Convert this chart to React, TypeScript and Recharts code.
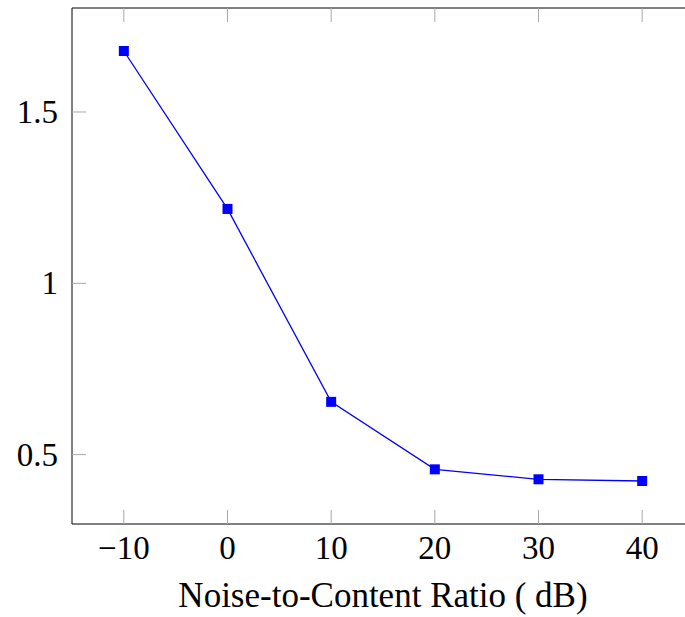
import React from 'react';
import { LineChart, Line, XAxis, YAxis, Label } from 'recharts';

const ratios = [-10, 0, 10, 20, 30, 40];
const losses = [1.678, 1.217, 0.654, 0.457, 0.428, 0.423];
const xTicks = [-10, 0, 10, 20, 30, 40];
const yTicks = [0.5, 1, 1.5];

const data = ratios.map((r, i) => ({ ratio: r, loss: losses[i] }));

const FONT = '"Liberation Serif", "DejaVu Serif", serif';
const TICK_LEN = 14;
const TICK_COLOR = '#a8a8a8';

const fmtX = (v: number) => (v < 0 ? '\u2212' + Math.abs(v) : String(v));

// inward tick marks drawn together with the label
const BottomTick = (props: any) => {
  const { x, y, payload } = props;
  return (
    <g>
      <line x1={x} y1={y} x2={x} y2={y - TICK_LEN} stroke={TICK_COLOR} strokeWidth={1} />
      <text x={x} y={y + 35} textAnchor="middle" fill="#000" fontSize={33} fontFamily={FONT}>
        {fmtX(payload.value)}
      </text>
    </g>
  );
};

const TopTick = (props: any) => {
  const { x, y } = props;
  return <line x1={x} y1={y} x2={x} y2={y + TICK_LEN} stroke={TICK_COLOR} strokeWidth={1} />;
};

const LeftTick = (props: any) => {
  const { x, y, payload } = props;
  return (
    <g>
      <line x1={x} y1={y} x2={x + TICK_LEN} y2={y} stroke={TICK_COLOR} strokeWidth={1} />
      <text x={x - 14} y={y + 11} textAnchor="end" fill="#000" fontSize={33} fontFamily={FONT}>
        {String(payload.value)}
      </text>
    </g>
  );
};

const RightTick = (props: any) => {
  const { x, y } = props;
  return <line x1={x} y1={y} x2={x - TICK_LEN} y2={y} stroke={TICK_COLOR} strokeWidth={1} />;
};

const Square = (props: any) => {
  const { cx, cy, index } = props;
  if (cx == null || cy == null) return null;
  return <rect key={index} x={cx - 5} y={cy - 5} width={10} height={10} fill="#0000ff" />;
};

export default function App() {
  return (
    <div style={{ position: 'fixed', top: 0, left: 0, width: 685, height: 617, overflow: 'hidden', background: '#fff' }}>
      <LineChart width={700} height={617} data={data} margin={{ top: 7, right: 5, bottom: 0, left: 0 }}>
        <XAxis
          xAxisId="b"
          dataKey="ratio"
          type="number"
          domain={[-15, 45]}
          ticks={xTicks}
          height={93}
          tickSize={0}
          tickMargin={0}
          tick={BottomTick}
          tickLine={false}
          axisLine={{ stroke: '#000' }}
        >
          <Label
            value="Noise-to-Content Ratio ( dB)"
            position="insideBottom"
            offset={10}
            style={{ fill: '#000', fontSize: 35, fontFamily: FONT }}
          />
        </XAxis>
        <XAxis
          xAxisId="t"
          dataKey="ratio"
          type="number"
          orientation="top"
          domain={[-15, 45]}
          ticks={xTicks}
          height={1}
          tickSize={0}
          tickMargin={0}
          tick={TopTick}
          tickLine={false}
          axisLine={{ stroke: '#000' }}
        />
        <YAxis
          yAxisId="l"
          type="number"
          domain={[0.2975, 1.8035]}
          ticks={yTicks}
          width={72}
          tickSize={0}
          tickMargin={0}
          tick={LeftTick}
          tickLine={false}
          axisLine={{ stroke: '#000' }}
        />
        <YAxis
          yAxisId="r"
          type="number"
          orientation="right"
          domain={[0.2975, 1.8035]}
          ticks={yTicks}
          width={1}
          tickSize={0}
          tickMargin={0}
          tick={RightTick}
          tickLine={false}
          axisLine={{ stroke: '#000' }}
        />
        <Line
          xAxisId="b"
          yAxisId="l"
          type="linear"
          dataKey="loss"
          stroke="#0000ff"
          strokeWidth={1.3}
          dot={Square}
          activeDot={false}
          isAnimationActive={false}
        />
      </LineChart>
    </div>
  );
}
